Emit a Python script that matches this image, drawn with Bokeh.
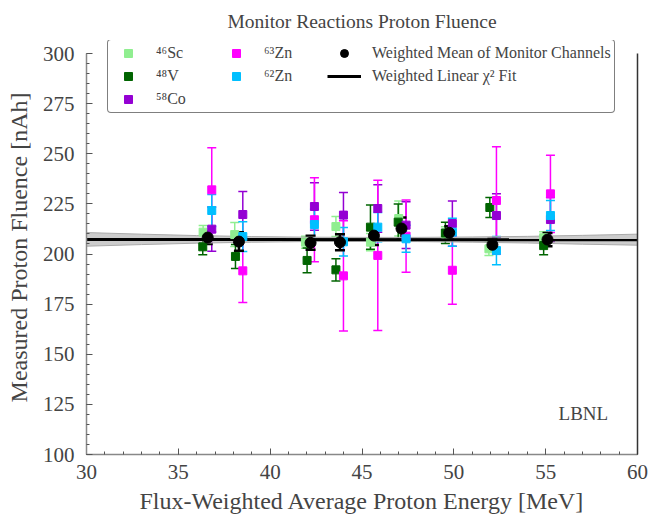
from bokeh.plotting import figure
from bokeh.models import (ColumnDataSource, Whisker, TeeHead, Legend, LegendItem,
                          Label, LinearAxis, Range1d, FixedTicker)
from bokeh.embed import file_html
from bokeh.resources import INLINE

FONT = "Liberation Serif"

# ---- data ----
mean_x = [36.6, 38.3, 42.2, 43.8, 45.65, 47.15, 49.75, 52.1, 55.1]
mean_y = [208.2, 206.2, 205.6, 205.9, 209.2, 212.7, 210.6, 204.6, 207.2]
mean_err = [3.2, 4.6, 3.5, 4.0, 4.7, 5.5, 3.2, 3.0, 3.3]

sc46_x = [36.35, 38.07, 41.92, 43.58, 45.46, 47.0, 49.54, 51.91, 54.89]
sc46_y = [210.9, 209.7, 205.9, 213.7, 205.9, 217.7, 210.1, 202.6, 208.1]
sc46_err = [3.3, 6.0, 3.0, 5.0, 4.3, 8.7, 3.5, 3.3, 3.0]

v48_x = [36.33, 38.11, 42.01, 43.58, 45.46, 46.97, 49.54, 51.96, 54.89]
v48_y = [203.6, 198.8, 196.8, 192.1, 213.4, 215.9, 210.5, 223.2, 204.2]
v48_err = [4.0, 6.0, 6.2, 5.6, 11.0, 9.0, 5.3, 5.0, 4.6]

co58_x = [36.82, 38.51, 42.41, 43.99, 45.86, 47.40, 49.92, 52.32, 55.26]
co58_y = [212.4, 219.7, 223.7, 219.4, 222.7, 214.4, 215.2, 219.2, 217.2]
co58_err = [11.0, 11.5, 11.8, 11.3, 11.8, 11.7, 11.3, 10.8, 11.0]

zn63_x = [36.82, 38.51, 42.41, 43.99, 45.86, 47.40, 49.92, 52.32, 55.26]
zn63_y = [232.0, 191.6, 217.1, 189.1, 199.3, 208.9, 191.9, 226.7, 230.0]
zn63_err = [21.0, 15.8, 21.0, 27.5, 37.5, 18.0, 16.9, 26.8, 19.3]

zn62_x = [36.82, 38.51, 42.41, 43.99, 45.86, 47.40, 49.92, 52.32, 55.26]
zn62_y = [221.7, 208.7, 214.7, 206.1, 213.4, 207.6, 210.9, 201.7, 219.2]
zn62_err = [8.0, 7.4, 7.6, 7.1, 7.3, 6.7, 7.0, 7.0, 7.5]

fit_x = [30, 60]
fit_y = [207.3, 207.1]
band_x = [30, 33, 36, 39, 42, 45, 48, 51, 54, 57, 60]
band_lo = [203.9, 204.7, 205.4, 205.9, 206.2, 206.3, 206.2, 205.9, 205.5, 204.9, 204.4]
band_hi = [210.7, 209.9, 209.2, 208.7, 208.4, 208.3, 208.3, 208.5, 208.8, 209.3, 209.9]

x_ticks = [30, 35, 40, 45, 50, 55, 60]
y_ticks = [100, 125, 150, 175, 200, 225, 250, 275, 300]

p = figure(width=649, height=516, output_backend="svg", toolbar_location=None,
           x_range=Range1d(30, 60), y_range=Range1d(100, 306.5),
           min_border_left=86, min_border_right=12, min_border_top=40, min_border_bottom=62)
p.title.text = "Monitor Reactions Proton Fluence"
p.title.align = "center"
p.title.text_font = FONT
p.title.text_font_size = "19.5px"
p.title.text_font_style = "normal"
p.title.standoff = 17
p.grid.visible = False
p.outline_line_color = None
p.background_fill_color = "white"
p.border_fill_color = "white"

for ax in (p.xaxis[0], p.yaxis[0]):
    ax.major_label_text_font = FONT
    ax.major_label_text_font_size = "21px"
    ax.axis_label_text_font = FONT
    ax.axis_label_text_font_size = "24px"
    ax.axis_label_text_font_style = "normal"
    ax.axis_line_color = "#888888"
    ax.axis_line_width = 1.5
    ax.major_tick_line_color = "#555555"
    ax.minor_tick_line_color = "#555555"
    ax.major_tick_in = 6
    ax.major_tick_out = 0
    ax.minor_tick_in = 3
    ax.minor_tick_out = 0
p.xaxis[0].ticker = FixedTicker(ticks=x_ticks, minor_ticks=list(range(30, 61)))
p.yaxis[0].ticker = FixedTicker(ticks=y_ticks, minor_ticks=list(range(100, 301, 5)))
p.yaxis[0].bounds = (100, 300)
p.xaxis.axis_label = "Flux-Weighted Average Proton Energy [MeV]"
p.yaxis.axis_label = "Measured Proton Fluence [nAh]"
p.xaxis.major_label_standoff = 10
p.xaxis.axis_label_standoff = 6
p.xaxis.axis_label_text_line_height = 0.7
p.yaxis.major_label_standoff = 12
p.yaxis.axis_label_standoff = 8

right = LinearAxis(ticker=FixedTicker(ticks=[]), major_label_text_font_size="0px",
                   axis_line_color="#333333", axis_line_width=1.5, bounds=(100, 300),
                   major_tick_line_color=None, minor_tick_line_color=None)
p.add_layout(right, "right")

# fit band and line
p.varea(x=band_x, y1=band_lo, y2=band_hi, fill_color="#999999", fill_alpha=0.5)
p.line(x=band_x, y=band_lo, line_color="#aaaaaa", line_width=1)
p.line(x=band_x, y=band_hi, line_color="#aaaaaa", line_width=1)
fit_r = p.line(x=fit_x, y=fit_y, line_color="black", line_width=3)

def series(xs, ys, es, color, marker, size, lw, head):
    src = ColumnDataSource(dict(x=xs, y=ys,
                                lo=[a - b for a, b in zip(ys, es)],
                                hi=[a + b for a, b in zip(ys, es)]))
    w = Whisker(base="x", lower="lo", upper="hi", source=src, line_color=color, line_width=lw,
                upper_head=TeeHead(size=head, line_color=color, line_width=lw),
                lower_head=TeeHead(size=head, line_color=color, line_width=lw))
    p.add_layout(w)
    r = p.scatter(x="x", y="y", source=src, marker=marker, size=size,
                  fill_color=color, line_color=color)
    return r

r_sc = series(sc46_x, sc46_y, sc46_err, "#90EE90", "square", 8, 1.5, 9)
r_v = series(v48_x, v48_y, v48_err, "#006400", "square", 8, 1.5, 9)
r_co = series(co58_x, co58_y, co58_err, "#9400D3", "square", 8, 1.5, 9)
r_63 = series(zn63_x, zn63_y, zn63_err, "#FF00FF", "square", 8, 1.5, 9)
r_62 = series(zn62_x, zn62_y, zn62_err, "#00BFFF", "square", 8, 1.5, 9)
r_m = series(mean_x, mean_y, mean_err, "black", "circle", 11, 2.5, 10)

blank = p.scatter(x=[], y=[], marker="square", size=1, fill_alpha=0, line_alpha=0)

legend = Legend(items=[
    LegendItem(label="⁴⁶Sc", renderers=[r_sc]),
    LegendItem(label="⁴⁸V", renderers=[r_v]),
    LegendItem(label="⁵⁸Co", renderers=[r_co]),
    LegendItem(label="⁶³Zn", renderers=[r_63]),
    LegendItem(label="⁶²Zn", renderers=[r_62]),
    LegendItem(label=" ", renderers=[blank]),
    LegendItem(label="Weighted Mean of Monitor Channels", renderers=[r_m]),
    LegendItem(label="Weighted Linear χ² Fit", renderers=[fit_r]),
], location=(21, 341), orientation="vertical", nrows=3)
legend.label_text_font = FONT
legend.label_text_font_size = "16px"
legend.glyph_width = 34
legend.glyph_height = 20
legend.label_height = 20
legend.label_width = 60
legend.label_standoff = 11
legend.spacing = 3
legend.padding = 3
legend.margin = 0
legend.border_line_color = "black"
legend.border_line_width = 1
legend.border_radius = 4
legend.background_fill_alpha = 1
p.add_layout(legend, "center")

p.add_layout(Label(x=55.7, y=120.6, text="LBNL", text_font=FONT, text_font_size="19px",
                   text_baseline="middle", text_align="left"))

open("out.html", "w").write(file_html(p, INLINE))
